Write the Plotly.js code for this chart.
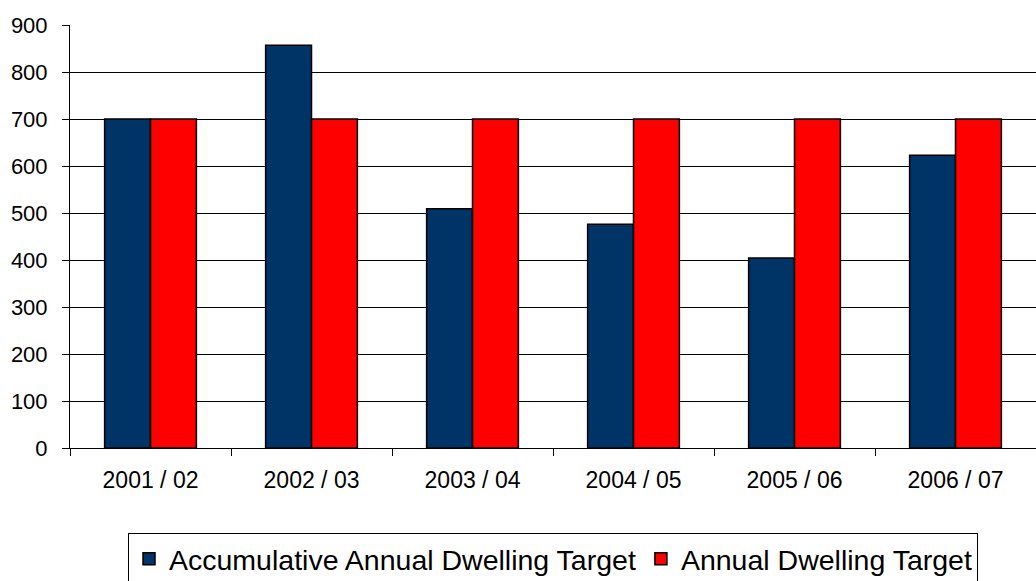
<!DOCTYPE html>
<html>
<head>
<meta charset="utf-8">
<script src="https://cdn.plot.ly/plotly-3.0.1.min.js"></script>
<style>
  html, body { margin: 0; padding: 0; background: #ffffff; }
  #chart { width: 1036px; height: 581px; }
</style>
</head>
<body>
<div id="chart"></div>
<script>
// Financial years
const years = ["2001 / 02", "2002 / 03", "2003 / 04", "2004 / 05", "2005 / 06", "2006 / 07"];

// Dwelling figures per year
const accumulativeTarget = [700, 857, 509, 476, 404, 623];
const annualTarget = [700, 700, 700, 700, 700, 700];

// Y axis ticks
const yTicks = [0, 100, 200, 300, 400, 500, 600, 700, 800, 900];

const fontFamily = "'Liberation Sans', Arial, sans-serif";

const traces = [
  {
    type: "bar",
    name: "Accumulative Annual Dwelling Target",
    x: years,
    y: accumulativeTarget,
    marker: { color: "#003366", line: { color: "#000000", width: 1.5 } },
    hoverinfo: "x+y"
  },
  {
    type: "bar",
    name: "Annual Dwelling Target",
    x: years,
    y: annualTarget,
    marker: { color: "#ff0000", line: { color: "#000000", width: 1.5 } },
    hoverinfo: "x+y"
  }
];

const layout = {
  width: 1036,
  height: 581,
  margin: { l: 70, r: 0, t: 25, b: 133, autoexpand: false },
  paper_bgcolor: "#ffffff",
  plot_bgcolor: "#ffffff",
  barmode: "group",
  bargap: 0.43,
  bargroupgap: 0,
  font: { family: fontFamily, size: 22, color: "#000000" },
  showlegend: true,
  legend: {
    orientation: "h",
    x: 0.5,
    xanchor: "center",
    yref: "container",
    y: 0.083,
    yanchor: "top",
    bordercolor: "#000000",
    borderwidth: 1,
    font: { family: fontFamily, size: 28.5, color: "#000000" },
    itemclick: false,
    itemdoubleclick: false
  },
  xaxis: {
    type: "category",
    showgrid: false,
    showline: true,
    linecolor: "#000000",
    linewidth: 1,
    ticks: "outside",
    tickson: "boundaries",
    ticklen: 7,
    tickcolor: "#000000",
    ticklabelstandoff: 11,
    tickfont: { family: fontFamily, size: 23, color: "#000000" },
    zeroline: false
  },
  yaxis: {
    range: [0, 900],
    tickvals: yTicks,
    ticktext: yTicks.map(String),
    showgrid: true,
    gridcolor: "#000000",
    gridwidth: 1,
    showline: true,
    linecolor: "#000000",
    linewidth: 1,
    ticks: "outside",
    ticklen: 7,
    tickcolor: "#000000",
    ticklabelstandoff: 10,
    tickfont: { family: fontFamily, size: 22, color: "#000000" },
    zeroline: false
  }
};

Plotly.newPlot("chart", traces, layout, { displayModeBar: false, staticPlot: true });
</script>
</body>
</html>
